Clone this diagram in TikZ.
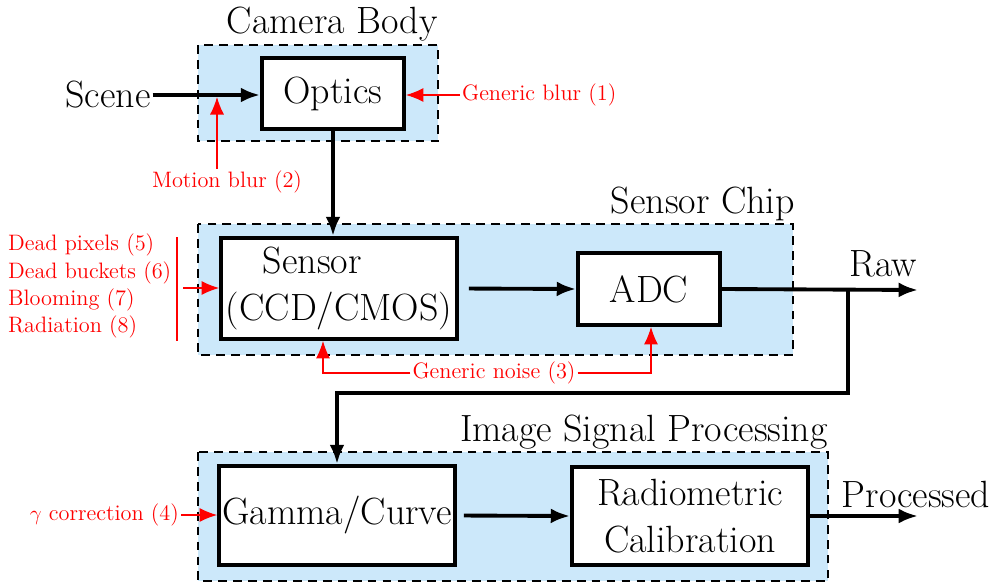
\documentclass[tikz,border=0pt]{standalone}
\usetikzlibrary{arrows.meta}
\definecolor{groupfill}{RGB}{204,232,250}
\begin{document}
\begin{tikzpicture}[x=0.02cm,y=-0.02cm,
  big/.style={font=\fontsize{21.6}{27}\selectfont},
  note/.style={font=\fontsize{12.7}{15.3}\selectfont, text=red, inner sep=1pt},
  group/.style={draw=black, fill=groupfill, line width=1.1pt, dash pattern=on 5pt off 3.5pt},
  block/.style={draw, line width=2.2pt, fill=white, big, inner sep=0pt},
  flow/.style={line width=2.2pt, -{Latex[length=11pt,width=8.5pt]}},
  redarrow/.style={draw=red, line width=0.7pt, -{Latex[length=10pt,width=8pt]}},
  grouptitle/.style={big, anchor=base east, inner sep=0pt}
]
\useasboundingbox (0,0) rectangle (993,584);

% subsystem groups
\path[group] (198,45) rectangle (438,141);
\path[group] (198,224) rectangle (793,355);
\path[group] (198,452) rectangle (828,581);
\node[grouptitle] (camtitle) at (438,34) {Camera Body};
\node[grouptitle] (chiptitle) at (795,214) {Sensor Chip};
\node[grouptitle] (isptitle) at (828,441) {Image Signal Processing};

% processing blocks
\node[block, minimum width=2.84cm, minimum height=1.42cm] (optics) at (333,93.5) {Optics};
\node[block, minimum width=4.72cm, minimum height=2.02cm, align=left] (sensor) at (339,288.5)
  {\hspace{21pt}Sensor\\(CCD/CMOS)};
\node[block, minimum width=2.84cm, minimum height=1.44cm] (adc) at (649,289) {ADC};
\node[block, minimum width=4.72cm, minimum height=1.98cm] (gamma) at (337,515.5) {Gamma/Curve};
\node[block, minimum width=4.72cm, minimum height=1.96cm, align=center] (radio) at (690,516)
  {Radiometric\\Calibration};

% signal labels
\node[big, inner sep=1pt] (scene) at (108,95) {Scene};
\node[big] (raw) at (883,264) {Raw};
\node[big] (processed) at (916,494) {Processed};
\coordinate (rawout) at (918,290);
\coordinate (procout) at (918,516);
\coordinate (split) at (848,290);
\coordinate (loop) at (848,393);

% signal flow
\draw[flow] (scene.east) -- (optics.west |- scene.east);
\draw[flow] (optics.south) -- (optics.south |- sensor.north);
\draw[flow, shorten <=0.2cm] (sensor.east) -- (adc.west);
\draw[flow] (adc.east) -- (rawout);
\draw[flow] (split) -- (loop) -| (gamma.north);
\draw[flow, shorten <=0.14cm] (gamma.east) -- (radio.west);
\draw[flow] (radio.east) -- (procout);

% degradation sources
\node[note, anchor=west] (gblur) at (460,95) {Generic blur (1)};
\draw[redarrow] (gblur.west) -- (optics.east |- gblur.west);

\node[note] (mblur) at (227,182) {Motion blur (2)};
\coordinate (mblurtip) at (217,97);
\draw[redarrow] (mblur.north -| mblurtip) -- (mblurtip);

\node[note] (gnoise) at (494,373) {Generic noise (3)};
\draw[redarrow] (gnoise.west) -| ([xshift=-0.32cm]sensor.south);
\draw[redarrow] (gnoise.east) -| ([xshift=0.04cm]adc.south);

\node[note, anchor=west, align=left, font=\fontsize{12.7}{15.4}\selectfont] (defects) at (6,286)
  {Dead pixels (5)\\Dead buckets (6)\\Blooming (7)\\Radiation (8)};
\coordinate (bartop) at (177,237);
\coordinate (barbot) at (177,341);
\coordinate (barout) at (183,288);
\draw[red, line width=1.2pt] (bartop) -- (barbot);
\draw[redarrow] (barout) -- (sensor.west |- barout);

\node[note, anchor=east] (gcorr) at (181,515) {$\gamma$ correction (4)};
\draw[redarrow] (gcorr.east) -- (gamma.west |- gcorr.east);
\end{tikzpicture}
\end{document}
